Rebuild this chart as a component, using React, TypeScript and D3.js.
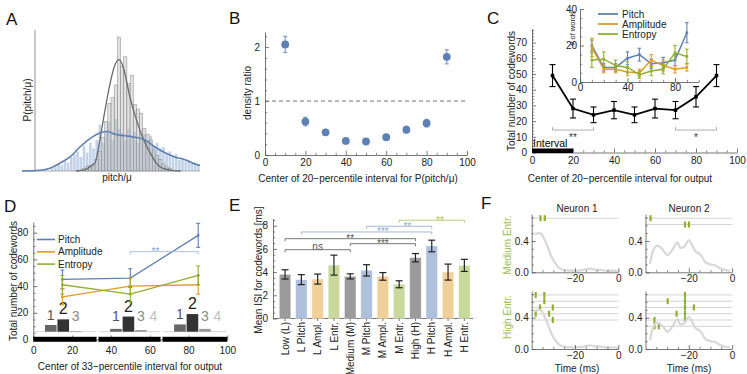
import React, { useEffect, useRef } from "react";
import * as d3 from "d3";

const FONT = "'Liberation Sans', Arial, Helvetica, sans-serif";
const AXIS = "#555";
const BLUE = "#5e81b5";
const ORANGE = "#e19c24";
const GREEN = "#8fb032";

// ---- A: pitch/mu histograms (bin index, relative density)
const aGrayStart = 19;
const aGrayHist = [0.02, 0.03, 0.04, 0.05, 0.08, 0.14, 0.24, 0.35, 0.48, 0.52, 0.61, 0.95, 0.74, 0.81, 0.62, 0.68, 0.47, 0.44, 0.41, 0.3, 0.26, 0.22, 0.15, 0.11, 0.08, 0.05, 0.03, 0.02];
const aBlueStart = 9;
const aBlueHist = [0.02, 0.03, 0.05, 0.04, 0.08, 0.06, 0.1, 0.12, 0.14, 0.1, 0.18, 0.13, 0.2, 0.16, 0.22, 0.33, 0.2, 0.28, 0.35, 0.22, 0.37, 0.3, 0.27, 0.22, 0.3, 0.25, 0.28, 0.2, 0.27, 0.26, 0.22, 0.25, 0.18, 0.2, 0.16, 0.17, 0.12, 0.14, 0.1, 0.12, 0.08, 0.09, 0.07, 0.08, 0.05, 0.06, 0.04];
const aGrayCurve: [number, number][] = [[17, 0], [20, 0.01], [21.4, 0.03], [23, 0.06], [24.5, 0.22], [26.1, 0.43], [27.7, 0.62], [29.2, 0.75], [30.5, 0.79], [31.8, 0.74], [34, 0.52], [35.5, 0.4], [37.1, 0.29], [38.7, 0.2], [40.3, 0.13], [41.8, 0.07], [43.4, 0.03], [45, 0.015], [47, 0.005], [50, 0]];
const aBlueCurve: [number, number][] = [[0, 0], [5.7, 0.005], [8.8, 0.02], [11.9, 0.055], [15.1, 0.1], [18.2, 0.17], [21.4, 0.23], [24.5, 0.27], [27, 0.28], [29.2, 0.26], [32.4, 0.25], [35.5, 0.24], [38.7, 0.22], [41.8, 0.17], [45, 0.13], [48.1, 0.1], [51.3, 0.08], [54.4, 0.05], [56, 0.04]];

// ---- B: density ratio
const bCenters = [10, 20, 30, 40, 50, 60, 70, 80, 90];
const bRatio = [2.05, 0.62, 0.42, 0.26, 0.25, 0.33, 0.47, 0.59, 1.82];
const bErr = [0.15, 0.08, 0.05, 0.03, 0.03, 0.04, 0.06, 0.07, 0.13];

// ---- C: total codewords + inset
const cCenters = [10, 20, 30, 40, 50, 60, 70, 80, 90];
const cTotal = [49, 28, 24, 27, 24, 28, 27, 35.5, 49];
const cTotalErr = [7, 6, 5, 5.5, 5, 6, 5.5, 6.5, 7];
const cPitch = [20, 8, 8, 13, 15, 10, 10.5, 12, 27];
const cPitchErr = [3, 2, 2, 3.5, 3.5, 2.5, 3, 3, 5.5];
const cAmpl = [19, 7, 7, 5.5, 5, 12, 9, 7, 8];
const cAmplErr = [5, 2, 2, 2, 2, 3, 3, 2, 2];
const cEntr = [12, 12.5, 9, 8, 4, 6, 7, 16, 14];
const cEntrErr = [4, 4, 3, 3, 2, 2.5, 2.5, 4, 4];
const cSig = [{ from: 10, to: 30, label: "**" }, { from: 70, to: 90, label: "*" }];
const cSigLevel = 14.3;
const seriesNames = ["Pitch", "Amplitude", "Entropy"];

// ---- D: 33-percentile intervals
const dCenters = [15, 50, 85];
const dPitch = [45, 46, 78];
const dPitchErr = [7, 7, 9];
const dAmpl = [32, 40, 41];
const dAmplErr = [6, 6, 7];
const dEntr = [41, 34, 48];
const dEntrErr = [7, 6, 7];
const dSegments: [number, number][] = [[0, 32.6], [33.6, 65.6], [66.6, 100]];
const dSpikeCounts = ["1", "2", "3", "4"];
const dSpikeShares = [[0.24, 0.44, 0.025], [0.1, 0.54, 0.06, 0.01], [0.26, 0.63, 0.1, 0.01]];
const dSig = { from: 50, to: 85, level: 65.8, at: 63, label: "**" };

// ---- E: mean ISI
const eCats = ["Low (L)", "L Pitch", "L Ampl.", "L Entr.", "Medium (M)", "M Pitch", "M Ampl.", "M Entr.", "High (H)", "H Pitch", "H Ampl.", "H Entr."];
const eKinds = ["all", "pitch", "ampl", "entr", "all", "pitch", "ampl", "entr", "all", "pitch", "ampl", "entr"];
const eMean = [3.8, 3.35, 3.4, 4.6, 3.63, 4.15, 3.63, 2.95, 5.24, 6.25, 4.0, 4.58];
const eErr = [0.4, 0.43, 0.43, 0.86, 0.22, 0.49, 0.33, 0.3, 0.36, 0.5, 0.69, 0.52];
const eBrackets = [
  { from: "Low (L)", to: "Medium (M)", level: 5.93, at: 2, label: "ns", tone: "dark" },
  { from: "Low (L)", to: "High (H)", level: 6.88, at: 4, label: "**", tone: "dark" },
  { from: "Medium (M)", to: "High (H)", level: 6.45, at: 6, label: "***", tone: "dark" },
  { from: "L Pitch", to: "H Pitch", level: 7.46, at: 6, label: "***", tone: "pitch" },
  { from: "M Pitch", to: "H Pitch", level: 7.95, at: 7.5, label: "**", tone: "pitch" },
  { from: "M Entr.", to: "H Entr.", level: 8.47, at: 9.5, label: "**", tone: "entr" },
];

// ---- F: example neurons
const fN1Curve: [number, number][] = [[-38.5, 0.48], [-37, 0.5], [-35.5, 0.49], [-34.5, 0.44], [-33, 0.35], [-31.5, 0.24], [-30, 0.15], [-28.5, 0.09], [-27, 0.05], [-25, 0.03], [-22, 0.02], [-19, 0.02], [-16, 0.03], [-13.5, 0.045], [-11, 0.035], [-8, 0.03], [-5, 0.02], [-2, 0.02], [0, 0.01]];
const fN2Curve: [number, number][] = [[-37.9, 0.11], [-36.6, 0.27], [-34.4, 0.34], [-32.1, 0.29], [-29.8, 0.22], [-27.5, 0.29], [-25.3, 0.38], [-23.8, 0.31], [-22, 0.33], [-20, 0.41], [-18.5, 0.35], [-17, 0.27], [-14.7, 0.23], [-12.4, 0.13], [-10.1, 0.1], [-7.9, 0.09], [-5.6, 0.05], [-3.3, 0.03], [-1, 0.02]];
const fN1Medium = [[-36, -34]];
const fN2Medium = [[-37.7], [-21.8, -20]];
const fN1High = [[-38.2, -34.2], [-34.2], [-36.2, -30.3], [-38.2, -32], [-30.3]];
const fN2High = [[-21.8], [-29.8, -21.8], [-21.8, -17.7], [-25.7, -21.8], [-35.9, -21.8], [-35.9, -33.9]];

type Sel = d3.Selection<any, any, any, any>;

function minors(start: number, stop: number, step: number, majors: number[]) {
  return d3.range(start, stop + 1e-9, step).filter((v) => !majors.some((m) => Math.abs(m - v) < 1e-6));
}

function axis(parent: Sel, side: "left" | "bottom", scale: any, at: number, majors: number[], minor: number[], fmt: any = d3.format("d"), pad = 4) {
  const make = () => (side === "left" ? d3.axisLeft(scale) : d3.axisBottom(scale));
  const tr = side === "left" ? `translate(${at},0)` : `translate(0,${at})`;
  if (minor.length) {
    const gm = parent.append("g").attr("transform", tr)
      .call(make().tickValues(minor).tickSizeInner(-2.2).tickSizeOuter(0).tickFormat(() => "") as any);
    gm.select(".domain").remove();
    gm.selectAll("line").attr("stroke", AXIS).attr("stroke-width", 0.7);
  }
  const g = parent.append("g").attr("transform", tr)
    .call(make().tickValues(majors).tickSizeInner(-4).tickSizeOuter(0).tickPadding(pad).tickFormat(fmt) as any);
  g.attr("font-family", FONT).attr("font-size", 10);
  g.select(".domain").attr("stroke", AXIS).attr("stroke-width", 0.8);
  g.selectAll("line").attr("stroke", AXIS).attr("stroke-width", 0.8);
  g.selectAll("text").attr("fill", "#222");
  return g;
}

function label(g: Sel, x: number, y: number, s: string, o: any = {}) {
  const t = g.append("text").attr("font-family", FONT).attr("font-size", o.size ?? 10)
    .attr("fill", o.fill ?? "#222").attr("text-anchor", o.anchor ?? "middle").text(s);
  if (o.rotate) t.attr("transform", `translate(${x},${y}) rotate(-90)`).attr("dy", o.dy ?? "0.35em");
  else t.attr("x", x).attr("y", y);
  return t;
}

function errBar(g: Sel, x: number, y1: number, y2: number, color: string, cap: number, w = 1) {
  g.append("line").attr("x1", x).attr("x2", x).attr("y1", y1).attr("y2", y2).attr("stroke", color).attr("stroke-width", w);
  [y1, y2].forEach((yy) =>
    g.append("line").attr("x1", x - cap / 2).attr("x2", x + cap / 2).attr("y1", yy).attr("y2", yy).attr("stroke", color).attr("stroke-width", w));
}

function bracket(g: Sel, x1: number, x2: number, y: number, drop: number, color: string) {
  g.append("path").attr("d", `M${x1},${y + drop}V${y}H${x2}V${y + drop}`).attr("fill", "none").attr("stroke", color).attr("stroke-width", 0.8);
}

function drawA(root: Sel) {
  const g = root.append("g");
  const x = d3.scaleLinear([0, 56], [22, 200]);
  const y = d3.scaleLinear([0, 1], [171, 30]);
  const bw = x(1) - x(0);
  g.selectAll(".blue").data(aBlueHist).join("rect")
    .attr("x", (_d, i) => x(aBlueStart + i) + 0.3).attr("width", bw - 0.6)
    .attr("y", (d) => y(d)).attr("height", (d) => y(0) - y(d))
    .attr("fill", "#b9cae4").attr("opacity", 0.85);
  g.selectAll(".gray").data(aGrayHist).join("rect")
    .attr("x", (_d, i) => x(aGrayStart + i)).attr("width", bw)
    .attr("y", (d) => y(d)).attr("height", (d) => y(0) - y(d))
    .attr("fill", "#c4c4c4").attr("fill-opacity", 0.5).attr("stroke", "#8a8a8a").attr("stroke-width", 0.5);
  g.append("line").attr("x1", 35).attr("x2", 35).attr("y1", y(0)).attr("y2", 30).attr("stroke", "#777").attr("stroke-width", 0.8);
  g.append("line").attr("x1", 22).attr("x2", 200).attr("y1", y(0)).attr("y2", y(0)).attr("stroke", "#999").attr("stroke-width", 0.8);
  const line = d3.line<[number, number]>().x((d) => x(d[0])).y((d) => y(d[1])).curve(d3.curveMonotoneX);
  g.append("path").attr("d", line(aGrayCurve)).attr("fill", "none").attr("stroke", "#6a6a6a").attr("stroke-width", 1.3);
  g.append("path").attr("d", line(aBlueCurve)).attr("fill", "none").attr("stroke", BLUE).attr("stroke-width", 1.6);
  label(g, 27.5, 100, "P(pitch/\u03bc)", { rotate: true });
  label(g, 117, 181, "pitch/\u03bc");
}

function drawB(root: Sel) {
  const g = root.append("g");
  const x = d3.scaleLinear([0, 100], [265, 467]);
  const y = d3.scaleLinear([0, 2.28], [155, 32]);
  axis(g, "left", y, 265, [0, 1, 2], minors(0, 2.2, 0.2, [0, 1, 2]), d3.format("d"), 5);
  axis(g, "bottom", x, 155, d3.range(0, 101, 20), minors(0, 100, 5, d3.range(0, 101, 20)));
  g.append("line").attr("x1", x(0)).attr("x2", x(100)).attr("y1", y(1)).attr("y2", y(1))
    .attr("stroke", "#777").attr("stroke-width", 1).attr("stroke-dasharray", "4,3");
  bCenters.forEach((c, i) => {
    errBar(g, x(c), y(bRatio[i] - bErr[i]), y(bRatio[i] + bErr[i]), "#7f9bc8", 4, 1.2);
    g.append("circle").attr("cx", x(c)).attr("cy", y(bRatio[i])).attr("r", 3.9).attr("fill", BLUE);
  });
  label(g, 247, 93, "density ratio", { rotate: true });
  label(g, 358, 182, "Center of 20\u2212percentile interval for P(pitch/\u03bc)");
}

function seriesPlot(g: Sel, x: any, y: any, xs: number[], vals: number[], errs: number[], color: string, w: number, cap: number, mark: number) {
  const line = d3.line<number>().x((_d, i) => x(xs[i])).y((d) => y(d));
  g.append("path").attr("d", line(vals)).attr("fill", "none").attr("stroke", color).attr("stroke-width", w);
  vals.forEach((v, i) => {
    errBar(g, x(xs[i]), y(v - errs[i]), y(v + errs[i]), color, cap, 1.1);
    g.append("rect").attr("x", x(xs[i]) - mark / 2).attr("y", y(v) - mark / 2).attr("width", mark).attr("height", mark).attr("fill", color);
  });
}

function drawC(root: Sel) {
  const g = root.append("g");
  const x = d3.scaleLinear([0, 100], [532, 737]);
  const y = d3.scaleLinear([0, 79], [152.5, 28.5]);
  axis(g, "left", y, 532, d3.range(0, 71, 10), minors(0, 78, 2, d3.range(0, 71, 10)), d3.format("d"), 5);
  axis(g, "bottom", x, 152.5, d3.range(0, 101, 20), minors(0, 100, 5, d3.range(0, 101, 20)));
  g.append("rect").attr("x", x(0)).attr("width", x(20) - x(0)).attr("y", 148.5).attr("height", 4.5).attr("fill", "#000");
  label(g, 533, 147, "Interval", { anchor: "start", size: 10.5, fill: "#000" });
  cSig.forEach((s) => {
    bracket(g, x(s.from), x(s.to), y(cSigLevel), -3, "#999");
    label(g, (x(s.from) + x(s.to)) / 2, y(cSigLevel) + 11, s.label, { fill: "#333" });
  });
  seriesPlot(g, x, y, cCenters, cTotal, cTotalErr, "#000", 1.8, 6, 3.5);
  label(g, 511, 91, "Total number of codewords", { rotate: true });
  label(g, 620, 182, "Center of 20\u2212percentile interval for output");

  // inset
  const ix = d3.scaleLinear([0, 100], [580, 698.75]);
  const iy = d3.scaleLinear([0, 40], [82, 9]);
  axis(g, "left", iy, 580, [0, 20, 40], minors(0, 40, 5, [0, 20, 40]), d3.format("d"), 3);
  axis(g, "bottom", ix, 82, [0, 40, 80], minors(0, 100, 10, [0, 40, 80]), d3.format("d"), 2);
  const colors = [BLUE, ORANGE, GREEN];
  [[cPitch, cPitchErr], [cAmpl, cAmplErr], [cEntr, cEntrErr]].forEach(([v, e], k) =>
    seriesPlot(g, ix, iy, cCenters, v, e, colors[k], 1.5, 3.5, 2.6));
  label(g, 572, 28.5, "# of words", { rotate: true, size: 7.5 });
  seriesNames.forEach((n, k) => {
    const yy = 14 + k * 10;
    g.append("line").attr("x1", 598).attr("x2", 618).attr("y1", yy).attr("y2", yy).attr("stroke", colors[k]).attr("stroke-width", 1.8);
    label(g, 622, yy, n, { anchor: "start", size: 10 }).attr("dy", "0.35em");
  });
}

function drawD(root: Sel) {
  const g = root.append("g");
  const x = d3.scaleLinear([0, 100], [33.3, 227.3]);
  const y = d3.scaleLinear([0, 88], [339.5, 222]);
  axis(g, "left", y, 33.3, d3.range(0, 81, 20), minors(0, 85, 5, d3.range(0, 81, 20)), d3.format("d"), 5);
  axis(g, "bottom", x, 339.5, d3.range(0, 101, 20), [], d3.format("d"), 7);
  dSegments.forEach(([s, e]) =>
    g.append("rect").attr("x", x(s)).attr("width", x(e) - x(s)).attr("y", 336.8).attr("height", 5).attr("fill", "#000"));

  // spike-count bars
  const yBar = d3.scaleLinear([0, 1], [331.7, 303.7]);
  const barFill = ["#666", "#333", "#999", "#c8c8c8"];
  const numFill = ["#555", "#222", "#8a8a8a", "#bdbdbd"];
  dSegments.forEach(([s, e], gi) => {
    g.append("line").attr("x1", x(s) + 1).attr("x2", x(e) - 1).attr("y1", yBar(0)).attr("y2", yBar(0)).attr("stroke", "#ccc").attr("stroke-width", 0.8);
    const band = d3.scaleBand(dSpikeCounts, [x(s + 6), x(s + 31.3)]).paddingInner(0.07);
    dSpikeShares[gi].forEach((v, k) => {
      const key = dSpikeCounts[k];
      g.append("rect").attr("x", band(key)!).attr("width", band.bandwidth()).attr("y", yBar(v)).attr("height", yBar(0) - yBar(v)).attr("fill", barFill[k]);
      label(g, band(key)! + band.bandwidth() / 2, Math.min(yBar(v) - 5, 321), key, { size: k === 1 ? 16 : 14, fill: numFill[k] });
    });
  });

  const colors = [BLUE, ORANGE, GREEN];
  [[dPitch, dPitchErr], [dAmpl, dAmplErr], [dEntr, dEntrErr]].forEach(([v, e], k) =>
    seriesPlot(g, x, y, dCenters, v, e, colors[k], 1.3, 4, 2.4));
  bracket(g, x(dSig.from), x(dSig.to), y(dSig.level), 3, "#9db3da");
  label(g, x(dSig.at), y(dSig.level) + 3.5, dSig.label, { fill: "#8aa3d0" });
  seriesNames.forEach((n, k) => {
    const yy = 239.5 + k * 12.3;
    g.append("line").attr("x1", 37).attr("x2", 55).attr("y1", yy).attr("y2", yy).attr("stroke", colors[k]).attr("stroke-width", 1.6);
    label(g, 58, yy, n, { anchor: "start", size: 10 }).attr("dy", "0.35em");
  });
  label(g, 13, 281, "Total number of codewords", { rotate: true });
  label(g, 130, 370, "Center of 33\u2212percentile interval for output");
}

function drawE(root: Sel) {
  const g = root.append("g");
  const x = d3.scaleBand(eCats, [276.9, 472.5]).paddingInner(0.3).paddingOuter(0.15);
  const y = d3.scaleLinear([0, 8.62], [318.5, 218.5]);
  const fill: Record<string, string> = { all: "#9b9b9b", pitch: "#afc0dd", ampl: "#f1cf99", entr: "#c9d99c" };
  const tone: Record<string, string> = { dark: "#555", pitch: "#8ea7d2", entr: "#a9c25e" };
  axis(g, "left", y, 273, [0, 2, 4, 6, 8], minors(0, 8.5, 0.5, [0, 2, 4, 6, 8]), d3.format("d"), 5);
  g.append("line").attr("x1", 273).attr("x2", 473).attr("y1", y(0)).attr("y2", y(0)).attr("stroke", AXIS).attr("stroke-width", 0.8);
  const cx = (c: string) => x(c)! + x.bandwidth() / 2;
  eCats.forEach((c, i) => {
    g.append("rect").attr("x", x(c)!).attr("width", x.bandwidth()).attr("y", y(eMean[i])).attr("height", y(0) - y(eMean[i]))
      .attr("fill", fill[eKinds[i]]).attr("stroke", "#fff").attr("stroke-opacity", 0.5).attr("stroke-width", 0.6);
    g.append("line").attr("x1", cx(c)).attr("x2", cx(c)).attr("y1", y(0)).attr("y2", y(0) + 2.5).attr("stroke", AXIS).attr("stroke-width", 0.8);
    errBar(g, cx(c), y(eMean[i] - eErr[i]), y(eMean[i] + eErr[i]), "#222", 7, 1.2);
    label(g, cx(c) + 3.6, 322, c, { rotate: true, anchor: "end", dy: "0" });
  });
  const step = x.step();
  eBrackets.forEach((b) => {
    const yy = y(b.level);
    bracket(g, cx(b.from), cx(b.to), yy, 2.5, tone[b.tone]);
    label(g, cx(eCats[0]) + b.at * step, yy + (b.label === "ns" ? 0.5 : 3.5), b.label, { fill: tone[b.tone], size: 10 });
  });
  label(g, 258, 270, "Mean ISI for codewords [ms]", { rotate: true });
}

function drawF(root: Sel) {
  const g = root.append("g");
  const colX = [531.7, 645.5];
  const rowY = [272.3, 349];
  const curves = [fN1Curve, fN2Curve];
  const rasters = [[fN1Medium, fN2Medium], [fN1High, fN2High]];
  rowY.forEach((y0, r) => {
    colX.forEach((x0, c) => {
      const x = d3.scaleLinear([-40, 0], [x0, x0 + 86.6]);
      const y = d3.scaleLinear([0, 0.74], [y0, y0 - 58]);
      rasters[r][c].forEach((trial, k) => {
        const ty = y(0.69 - 0.08 * k);
        g.append("line").attr("x1", x0).attr("x2", x0 + 86.6).attr("y1", ty).attr("y2", ty).attr("stroke", "#c8c8c8").attr("stroke-width", 0.8);
        trial.forEach((t) => g.append("rect").attr("x", x(t) - 1).attr("y", ty - 3).attr("width", 2.2).attr("height", 6).attr("fill", GREEN));
      });
      const line = d3.line<[number, number]>().x((d) => x(d[0])).y((d) => y(d[1])).curve(d3.curveMonotoneX);
      g.append("path").attr("d", line(curves[c])).attr("fill", "none").attr("stroke", "#d9d9d9").attr("stroke-width", 2.3);
      axis(g, "left", y, x0, [0, 0.4], [0.1, 0.2, 0.3, 0.5, 0.6, 0.7], d3.format(".1f"), 3);
      axis(g, "bottom", x, y0, [-20, 0], [-35, -30, -25, -15, -10, -5], d3.format("d"), 3);
    });
  });
  label(g, 577, 211.5, "Neuron 1");
  label(g, 689, 211.5, "Neuron 2");
  label(g, 577, 371.5, "Time (ms)");
  label(g, 689, 371.5, "Time (ms)");
  label(g, 507.5, 245, "Medium Entr.", { rotate: true, fill: "#9cbd4f" });
  label(g, 507.5, 317, "High Entr.", { rotate: true, fill: "#9cbd4f" });
}

export default function App() {
  const svgRef = useRef<SVGSVGElement>(null);
  useEffect(() => {
    const svg = d3.select(svgRef.current);
    svg.selectAll("*").remove();
    const root = svg.append("g");
    root.append("rect").attr("width", 747).attr("height", 374).attr("fill", "#fff");
    drawA(root);
    drawB(root);
    drawC(root);
    drawD(root);
    drawE(root);
    drawF(root);
    const letters: [string, number, number][] = [["A", 6, 25], ["B", 229, 24], ["C", 487, 24], ["D", 4, 211.5], ["E", 229, 211], ["F", 481, 209]];
    letters.forEach(([s, lx, ly]) => label(root, lx, ly, s, { size: 17, anchor: "start", fill: "#111" }));
  }, []);
  return <svg ref={svgRef} width={747} height={374} style={{ position: "absolute", left: 0, top: 0 }} />;
}
